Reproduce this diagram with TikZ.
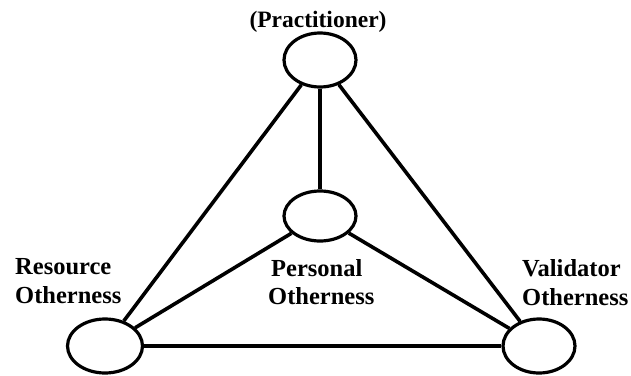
\documentclass[tikz,border=0pt]{standalone}
\usepackage{fontspec}
\setmainfont{Liberation Serif}
\usetikzlibrary{shapes.geometric}
\begin{document}
\begin{tikzpicture}[x=1pt,y=-1pt,
  vertex/.style={draw=black,line width=3.2pt,ellipse,inner sep=0pt,minimum width=72pt,minimum height=54pt,fill=white},
  link/.style={draw=black,line width=3.6pt},
  lbl/.style={inner sep=0pt,font=\fontsize{24.5}{29}\selectfont\bfseries}]
\useasboundingbox (0,0) rectangle (631,375);
\node[vertex] (P) at (320,60) {};
\node[vertex,minimum height=50pt] (M) at (320,216) {};
\node[vertex,minimum width=75pt] (R) at (105,346) {};
\node[vertex] (V) at (539,346) {};
\draw[link] (P) -- (M);
\draw[link] (P) -- (R);
\draw[link] (P) -- (V);
\draw[link] (M) -- (R);
\draw[link] (M) -- (V);
\draw[link] (R) -- (V);
\node[lbl,anchor=base,font=\fontsize{23.5}{28}\selectfont\bfseries] (tP) at (318,27) {(Practitioner)};
\node[lbl,anchor=base west] (tR1) at (15,274) {Resource};
\node[lbl,anchor=base west] (tR2) at (15,303) {Otherness};
\node[lbl,anchor=base west] (tM1) at (271,276) {Personal};
\node[lbl,anchor=base west] (tM2) at (268,304) {Otherness};
\node[lbl,anchor=base west] (tV1) at (522,276) {Validator};
\node[lbl,anchor=base west] (tV2) at (522,305) {Otherness};
\end{tikzpicture}
\end{document}
